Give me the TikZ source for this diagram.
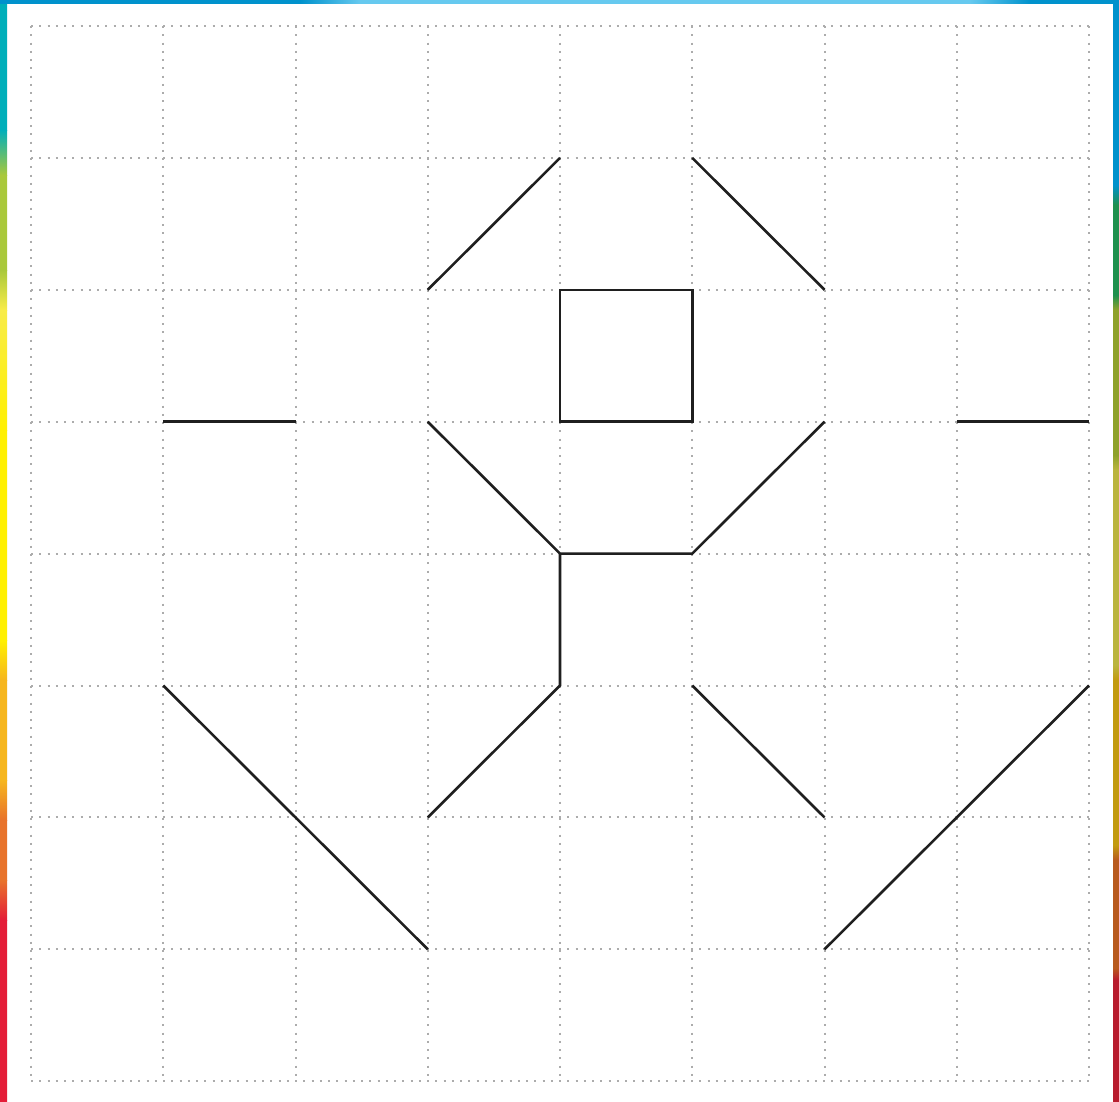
\documentclass[tikz,border=0pt]{standalone}
\usepackage{xcolor}
\usepackage{tikz}
\usetikzlibrary{calc}

% colours of the frame strips
\definecolor{edge_teal}{HTML}{00AFBA}
\definecolor{edge_green}{HTML}{A9C83B}
\definecolor{edge_lemon}{HTML}{F8EC48}
\definecolor{edge_yellow}{HTML}{FFF000}
\definecolor{edge_amber}{HTML}{F6B61E}
\definecolor{edge_orange}{HTML}{E8732B}
\definecolor{edge_red}{HTML}{E41D38}
\definecolor{edge_blue}{HTML}{0092CC}
\definecolor{edge_sky}{HTML}{66C9EF}
\definecolor{edge_dgreen}{HTML}{1F904E}
\definecolor{edge_olive}{HTML}{8FA12B}
\definecolor{edge_khaki}{HTML}{BAB43E}
\definecolor{edge_mustard}{HTML}{C29A10}
\definecolor{edge_brown}{HTML}{B85A1E}
\definecolor{edge_dred}{HTML}{B81C2E}

\begin{document}
\begin{tikzpicture}[
    x=1bp, y=-1bp,
    % Styles for the grid and the figure
    grid_line/.style={draw=gray!65, line width=2bp, dash pattern=on 2bp off 6.25bp},
    shape_line/.style={draw=black!88, line width=2.6bp},
    strip/.style={draw=none}
]
    \useasboundingbox (0,0) rectangle (1119,1102);
    \fill[white] (0,0) rectangle (1119,1102);

    % =========================================================================
    % FRAME - COLOURED STRIPS
    % =========================================================================
    \foreach \ya/\yb/\ca/\cb in {0/130/edge_teal/edge_teal, 130/175/edge_teal/edge_green,
        175/270/edge_green/edge_green, 270/310/edge_green/edge_lemon,
        310/430/edge_lemon/edge_yellow, 430/640/edge_yellow/edge_yellow,
        640/680/edge_yellow/edge_amber, 680/780/edge_amber/edge_amber,
        780/820/edge_amber/edge_orange, 820/880/edge_orange/edge_orange,
        880/920/edge_orange/edge_red, 920/1102/edge_red/edge_red} {
        \shade[strip, top color=\ca, bottom color=\cb] (0,\ya) rectangle (7,\yb);
    }
    \foreach \ya/\yb/\ca/\cb in {0/185/edge_blue/edge_blue, 185/205/edge_blue/edge_dgreen,
        205/295/edge_dgreen/edge_dgreen, 295/310/edge_dgreen/edge_olive,
        310/455/edge_olive/edge_olive, 455/470/edge_olive/edge_khaki,
        470/665/edge_khaki/edge_khaki, 665/680/edge_khaki/edge_mustard,
        680/845/edge_mustard/edge_mustard, 845/860/edge_mustard/edge_brown,
        860/968/edge_brown/edge_brown, 968/980/edge_brown/edge_dred,
        980/1102/edge_dred/edge_dred} {
        \shade[strip, top color=\ca, bottom color=\cb] (1113,\ya) rectangle (1119,\yb);
    }
    \fill[edge_blue] (0,0) rectangle (1119,3.5);
    \shade[strip, left color=edge_blue, right color=edge_sky] (300,0) rectangle (360,3.5);
    \fill[edge_sky] (360,0) rectangle (970,3.5);
    \shade[strip, left color=edge_sky, right color=edge_blue] (970,0) rectangle (1030,3.5);

    % =========================================================================
    % GRID POINTS AND DOTTED GRID
    % =========================================================================
    \foreach \i in {0,...,8} {
        \foreach \j in {0,...,8} {
            \coordinate (p\i\j) at ({31+132.25*\i}, {26+131.9*\j});
        }
    }
    \foreach \k in {0,...,8} {
        \draw[grid_line] (p\k0) -- (p\k8);
        \draw[grid_line] (p0\k) -- (p8\k);
    }

    % =========================================================================
    % FIGURE
    % =========================================================================
    % upper diagonals
    \draw[shape_line] (p32) -- (p41);
    \draw[shape_line] (p51) -- (p62);
    % square
    \draw[shape_line] (p42) rectangle (p53);
    % short side bars
    \draw[shape_line] (p13) -- (p23);
    \draw[shape_line] (p73) -- (p83);
    % cup
    \draw[shape_line] (p33) -- (p44) -- (p54) -- (p63);
    % stem and legs
    \draw[shape_line] (p44) -- (p45) -- (p36);
    \draw[shape_line] (p55) -- (p66);
    \draw[shape_line] (p15) -- (p37);
    \draw[shape_line] (p85) -- (p67);

\end{tikzpicture}
\end{document}
